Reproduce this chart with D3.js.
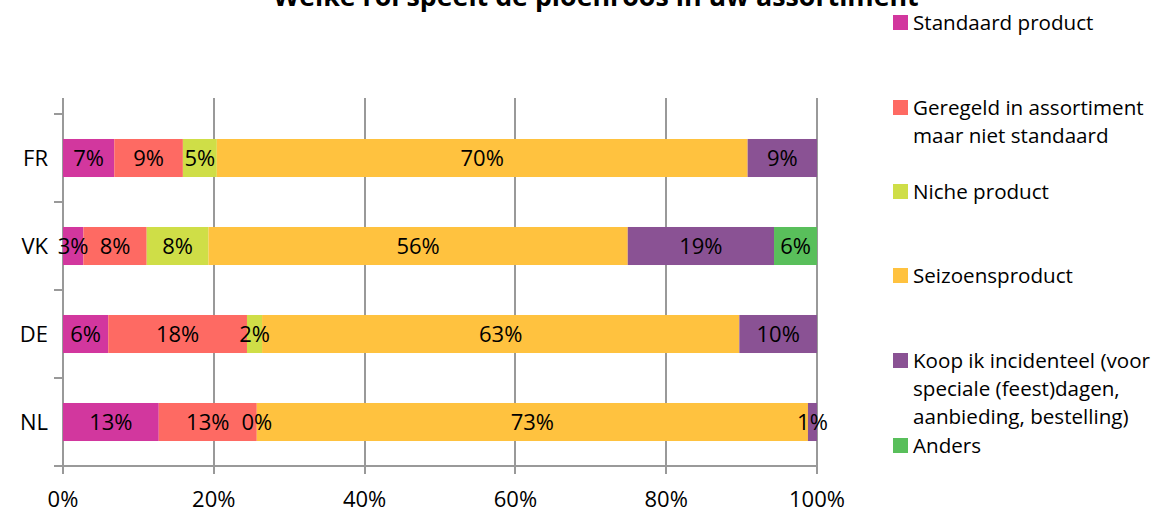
<!DOCTYPE html>
<html>
<head>
<meta charset="utf-8">
<script src="https://cdn.jsdelivr.net/npm/d3@7"></script>
<style>
  html, body { margin: 0; padding: 0; background: #fff; }
  svg { display: block; font-family: "Open Sans", sans-serif; }
</style>
</head>
<body>
<svg id="chart" width="1158" height="511"></svg>
<script>
const title = "Welke rol speelt de pioenroos in uw assortiment";
const categories = ["FR", "VK", "DE", "NL"];
const seriesNames = [
  "Standaard product",
  "Geregeld in assortiment maar niet standaard",
  "Niche product",
  "Seizoensproduct",
  "Koop ik incidenteel (voor speciale (feest)dagen, aanbieding, bestelling)",
  "Anders"
];
const legendLines = [
  ["Standaard product"],
  ["Geregeld in assortiment", "maar niet standaard"],
  ["Niche product"],
  ["Seizoensproduct"],
  ["Koop ik incidenteel (voor", "speciale (feest)dagen,", "aanbieding, bestelling)"],
  ["Anders"]
];
const colors = ["#D2379E", "#FE6A63", "#CFDE47", "#FFC23F", "#8A5294", "#59BF5B"];
// values per series, in order of categories FR, VK, DE, NL (percent)
const standaard = [6.8, 2.7, 6.0, 12.7];
const geregeld  = [9.1, 8.4, 18.4, 13.0];
const niche     = [4.5, 8.2, 2.0, 0.0];
const seizoen   = [70.4, 55.6, 63.3, 73.1];
const koop      = [9.2, 19.4, 10.3, 1.2];
const anders    = [null, 5.7, null, null];
const xTicks = [0, 20, 40, 60, 80, 100];

const seriesValues = [standaard, geregeld, niche, seizoen, koop, anders];

const svg = d3.select("#chart");

const x = d3.scaleLinear().domain([0, 100]).range([63, 817]);
const y = d3.scaleBand().domain(categories).range([114, 466]).paddingInner(0.568).paddingOuter(0.284);
const gridTop = 98;
const axisY = 466;

// gridlines
svg.append("g").selectAll("line").data(xTicks).join("line")
  .attr("x1", d => Math.round(x(d))).attr("x2", d => Math.round(x(d)))
  .attr("y1", gridTop).attr("y2", axisY + 8)
  .attr("stroke", "#999").attr("stroke-width", 2);

// y axis ticks
const yTickPos = d3.range(categories.length + 1).map(i => 114 + i * y.step());
svg.append("g").selectAll("line").data(yTickPos).join("line")
  .attr("x1", 54).attr("x2", 63)
  .attr("y1", d => Math.round(d)).attr("y2", d => Math.round(d))
  .attr("stroke", "#999").attr("stroke-width", 2);

// x axis line
svg.append("line").attr("x1", 54).attr("x2", 817).attr("y1", axisY).attr("y2", axisY)
  .attr("stroke", "#999").attr("stroke-width", 2);

// stacked data
const rows = categories.map((c, i) => {
  let acc = 0;
  return seriesValues.map((s, k) => {
    const v = s[i];
    const seg = { cat: c, k, v, x0: acc, x1: acc + (v || 0) };
    acc += (v || 0);
    return seg;
  });
}).flat();

svg.append("g").selectAll("rect").data(rows.filter(d => d.v)).join("rect")
  .attr("x", d => x(d.x0)).attr("width", d => x(d.x1) - x(d.x0))
  .attr("y", d => y(d.cat)).attr("height", y.bandwidth())
  .attr("fill", d => colors[d.k]);

svg.append("g").selectAll("text").data(rows.filter(d => d.v !== null)).join("text")
  .attr("x", d => (x(d.x0) + x(d.x1)) / 2)
  .attr("y", d => y(d.cat) + y.bandwidth() / 2 + 8)
  .attr("text-anchor", "middle")
  .attr("font-size", 22).attr("fill", "#000")
  .text(d => Math.round(d.v) + "%");

// category labels
svg.append("g").selectAll("text").data(categories).join("text")
  .attr("x", 48).attr("y", d => y(d) + y.bandwidth() / 2 + 8)
  .attr("text-anchor", "end").attr("font-size", 22).attr("fill", "#000")
  .text(d => d);

// x tick labels
svg.append("g").selectAll("text").data(xTicks).join("text")
  .attr("x", d => x(d)).attr("y", 507)
  .attr("text-anchor", "middle").attr("font-size", 22).attr("fill", "#000")
  .text(d => d + "%");

// title
svg.append("text").attr("x", 596).attr("y", 6)
  .attr("text-anchor", "middle").attr("font-size", 26.8).attr("font-weight", "bold")
  .text(title);

// legend
const legendTops = [15, 100, 184, 268, 353, 438];
const lg = svg.append("g");
seriesNames.forEach((name, k) => {
  const t = legendTops[k];
  lg.append("rect").attr("x", 893).attr("y", t).attr("width", 15).attr("height", 15).attr("fill", colors[k]);
  const txt = lg.append("text").attr("x", 913).attr("y", t + 15).attr("font-size", 20.6).attr("fill", "#000");
  legendLines[k].forEach((line, j) => {
    txt.append("tspan").attr("x", 913).attr("dy", j === 0 ? 0 : 28).text(line);
  });
});
</script>
</body>
</html>
